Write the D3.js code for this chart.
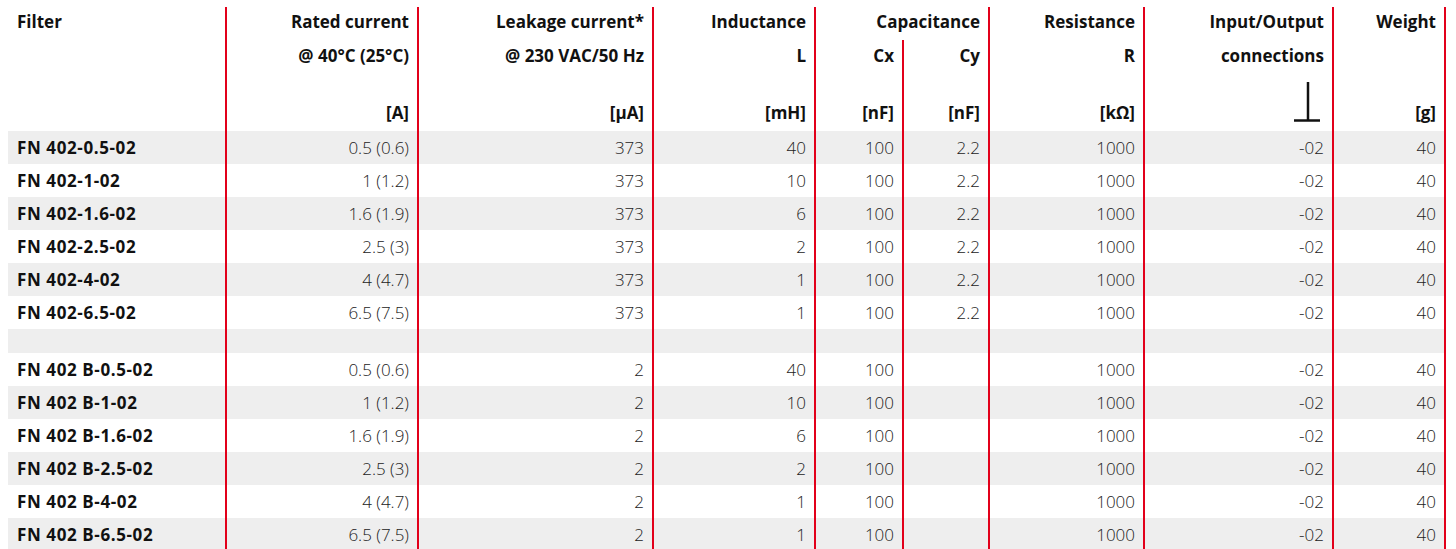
<!DOCTYPE html>
<html>
<head>
<meta charset="utf-8">
<script src="https://cdn.jsdelivr.net/npm/d3@7"></script>
<style>
  body { margin: 0; background: #fff; }
  svg { display: block; font-family: "Open Sans", "Noto Sans", sans-serif; }
  .hd { font-weight: 700; font-size: 17px; fill: #111; }
  .name { font-weight: 700; font-size: 17px; fill: #111; letter-spacing: 0.6px; }
  .val { font-weight: 300; font-size: 17px; fill: #222; }
</style>
</head>
<body>
<svg id="chart" width="1456" height="549"></svg>
<script>
// table data
const filters = ["FN 402-0.5-02", "FN 402-1-02", "FN 402-1.6-02", "FN 402-2.5-02", "FN 402-4-02", "FN 402-6.5-02",
  "FN 402 B-0.5-02", "FN 402 B-1-02", "FN 402 B-1.6-02", "FN 402 B-2.5-02", "FN 402 B-4-02", "FN 402 B-6.5-02"];
const ratedCurrent = ["0.5 (0.6)", "1 (1.2)", "1.6 (1.9)", "2.5 (3)", "4 (4.7)", "6.5 (7.5)",
  "0.5 (0.6)", "1 (1.2)", "1.6 (1.9)", "2.5 (3)", "4 (4.7)", "6.5 (7.5)"];
const leakage = [373, 373, 373, 373, 373, 373, 2, 2, 2, 2, 2, 2];
const inductance = [40, 10, 6, 2, 1, 1, 40, 10, 6, 2, 1, 1];
const cx = [100, 100, 100, 100, 100, 100, 100, 100, 100, 100, 100, 100];
const cy = ["2.2", "2.2", "2.2", "2.2", "2.2", "2.2", "", "", "", "", "", ""];
const resistance = [1000, 1000, 1000, 1000, 1000, 1000, 1000, 1000, 1000, 1000, 1000, 1000];
const connections = ["-02", "-02", "-02", "-02", "-02", "-02", "-02", "-02", "-02", "-02", "-02", "-02"];
const weight = [40, 40, 40, 40, 40, 40, 40, 40, 40, 40, 40, 40];

const columns = ["filter", "rated", "leak", "ind", "cx", "cy", "res", "io", "weight"];
const header1 = ["Filter", "Rated current", "Leakage current*", "Inductance", "", "", "Resistance", "Input/Output", "Weight"];
const header2 = ["", "@ 40°C (25°C)", "@ 230 VAC/50 Hz", "L", "Cx", "Cy", "R", "connections", ""];
const units = ["", "[A]", "[µA]", "[mH]", "[nF]", "[nF]", "[kΩ]", "", "[g]"];

const svg = d3.select("#chart");
const red = "#e2001a";

// column edges (right borders)
const edges = [8, 226, 418, 653, 815, 903, 989, 1144, 1333, 1445];
const colX = d3.scaleOrdinal().domain(columns).range(edges.slice(0, -1));
const colR = d3.scaleOrdinal().domain(columns).range(edges.slice(1));

// rows, with a short spacer between the two groups
const rowKeys = filters.slice(0, 6).concat(["spacer"], filters.slice(6));
const rowH = rowKeys.map(k => k === "spacer" ? 24 : 33);
const topY = 131;
const rowY = d3.scaleOrdinal().domain(rowKeys).range(rowKeys.map((k, i) => topY + d3.sum(rowH.slice(0, i))));
const rowHt = d3.scaleOrdinal().domain(rowKeys).range(rowH);

// stripes
svg.append("g").selectAll("rect")
  .data(rowKeys.filter((k, i) => i % 2 === 0))
  .join("rect")
  .attr("x", edges[0])
  .attr("y", d => rowY(d))
  .attr("width", edges[edges.length - 1] - edges[0])
  .attr("height", d => rowHt(d))
  .attr("fill", "#eeeeee");

// header
const hg = svg.append("g");
columns.forEach((c, i) => {
  const isLeft = c === "filter";
  const x = isLeft ? 17 : colR(c) - 9;
  const anchor = isLeft ? "start" : "end";
  hg.append("text").attr("class", "hd").attr("x", x).attr("y", 28).attr("text-anchor", anchor).text(header1[i]);
  hg.append("text").attr("class", "hd").attr("x", x).attr("y", 62).attr("text-anchor", anchor).text(header2[i]);
  hg.append("text").attr("class", "hd").attr("x", x).attr("y", 119).attr("text-anchor", anchor).text(units[i]);
});
hg.append("text").attr("class", "hd")
  .attr("x", colR("cy") - 9).attr("y", 28).attr("text-anchor", "end").text("Capacitance");

// ground symbol
hg.append("line").attr("x1", 1308).attr("x2", 1308).attr("y1", 82).attr("y2", 121)
  .attr("stroke", "#111").attr("stroke-width", 2.5);
hg.append("line").attr("x1", 1294).attr("x2", 1320).attr("y1", 120.5).attr("y2", 120.5)
  .attr("stroke", "#111").attr("stroke-width", 2.5);

// body cells
const values = {rated: ratedCurrent, leak: leakage, ind: inductance, cx: cx, cy: cy, res: resistance, io: connections, weight: weight};
const bg = svg.append("g");
filters.forEach((f, r) => {
  const yc = rowY(f) + rowHt(f) / 2 + 6;
  bg.append("text").attr("class", "name").attr("x", 17).attr("y", yc).text(f);
  columns.slice(1).forEach(c => {
    bg.append("text").attr("class", "val")
      .attr("x", colR(c) - 9).attr("y", yc)
      .attr("text-anchor", "end")
      .text(values[c][r]);
  });
});

// red column lines
svg.append("g").selectAll("line")
  .data(columns.slice(1))
  .join("line")
  .attr("x1", d => colX(d)).attr("x2", d => colX(d))
  .attr("y1", d => d === "cy" ? 40 : 7)
  .attr("y2", 549)
  .attr("stroke", red)
  .attr("stroke-width", 2);
svg.append("line")
  .attr("x1", edges[edges.length - 1]).attr("x2", edges[edges.length - 1])
  .attr("y1", 7).attr("y2", 549)
  .attr("stroke", red).attr("stroke-width", 2);
</script>
</body>
</html>
